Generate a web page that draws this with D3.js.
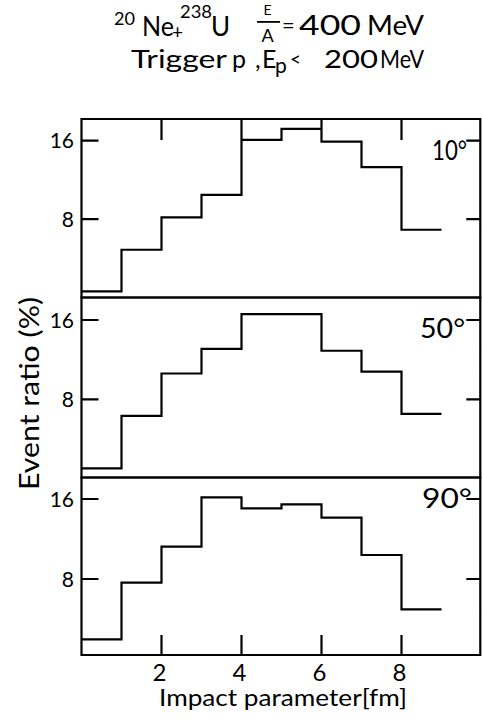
<!DOCTYPE html>
<html>
<head>
<meta charset="utf-8">
<script src="https://cdn.jsdelivr.net/npm/d3@7"></script>
<style>
  html, body { margin: 0; padding: 0; background: #fff; }
  svg { display: block; }
  text { font-family: Lato, "DejaVu Sans", sans-serif; fill: #000; }
</style>
</head>
<body>
<script>
// ---- data ----
const binEdges = [0, 1, 2, 3, 4, 5, 6, 7, 8, 9];
const xTickValues = [2, 4, 6, 8];
const yTickValues = [8, 16];
const panelLabels = ["10°", "50°", "90°"];
const ratio10 = [0.63, 4.87, 8.16, 10.47, 16.07, 17.19, 15.9, 13.29, 6.91];
const ratio50 = [1.04, 6.32, 10.6, 13.08, 16.6, 16.6, 12.9, 10.8, 6.52];
const ratio90 = [1.97, 7.63, 11.23, 16.17, 15.07, 15.47, 14.13, 10.4, 4.97];
const series = [ratio10, ratio50, ratio90];
const yDomains = [[0, 18.2], [0.11, 18.27], [0.4, 18.15]];

// ---- layout ----
const W = 482, H = 721;
const panelTops = [119, 297.5, 477.5];
const panelBottoms = [297.5, 477.5, 655];
const labelX = [432, 420, 422];
const labelBaseline = [160, 338, 508];
const labelLen = [35, 45, 50];

const svg = d3.select("body").append("svg").attr("width", W).attr("height", H);

const x = d3.scaleLinear().domain([0, 10]).range([81.5, 481.5]);
const x0 = x(0), xRight = x(9.97);

const step = d3.line().curve(d3.curveStepAfter);

series.forEach((vals, i) => {
  const y = d3.scaleLinear().domain(yDomains[i]).range([panelBottoms[i], panelTops[i]]);
  const g = svg.append("g");
  const pTop = panelTops[i], pBot = panelBottoms[i];

  // histogram step line, frame and inward tick marks, all in one path
  const pts = binEdges.map((e, k) => [x(e), y(vals[Math.min(k, vals.length - 1)])]);
  let d = step(pts);
  d += `M${x0},${pTop}H${xRight}V${pBot}H${x0}Z`;
  yTickValues.forEach(v => {
    d += `M${x0},${y(v)}H${x0 + 17}`;
    d += `M${xRight - 14},${y(v)}H${xRight}`;
  });
  if (i === 0) xTickValues.forEach(v => { d += `M${x(v)},${pTop}V${pTop + 21}`; });
  if (i === series.length - 1) xTickValues.forEach(v => { d += `M${x(v)},${pBot - 20}V${pBot}`; });
  g.append("path").attr("d", d)
    .attr("fill", "none").attr("stroke", "#000").attr("stroke-width", 2.2);

  // left tick labels
  g.selectAll("text.lt").data(yTickValues).join("text").attr("class", "lt")
    .attr("x", 74).attr("y", v => y(v)).attr("dy", "0.36em")
    .attr("text-anchor", "end").attr("font-size", 21).text(v => v);

  if (i === series.length - 1) {
    g.selectAll("text.bt").data(xTickValues).join("text").attr("class", "bt")
      .attr("x", v => x(v) - 2).attr("y", 681).attr("text-anchor", "middle")
      .attr("font-size", 24).text(v => v);
  }

  // panel label
  g.append("text").attr("x", labelX[i]).attr("y", labelBaseline[i])
    .attr("font-size", 27).attr("textLength", labelLen[i]).attr("lengthAdjust", "spacingAndGlyphs")
    .text(panelLabels[i]);
});

// axis titles
svg.append("text")
  .attr("transform", "translate(39,393.5) rotate(-90)")
  .attr("text-anchor", "middle").attr("font-size", 26)
  .attr("textLength", 193).attr("lengthAdjust", "spacingAndGlyphs")
  .text("Event ratio (%)");

svg.append("text")
  .attr("x", 159).attr("y", 706)
  .attr("font-size", 23).attr("textLength", 248).attr("lengthAdjust", "spacingAndGlyphs")
  .text("Impact parameter[fm]");

// titles
const T = (g, tx, ty, size, str, len, anchor) => {
  const t = g.append("text").attr("x", tx).attr("y", ty).attr("font-size", size).text(str);
  if (len) t.attr("textLength", len).attr("lengthAdjust", "spacingAndGlyphs");
  if (anchor) t.attr("text-anchor", anchor);
  return t;
};
const t1 = svg.append("g");
T(t1, 114, 25, 17, "20", 21);
T(t1, 142, 36, 26, "Ne", 32);
T(t1, 172, 39, 19, "+");
T(t1, 180, 18, 18, "238", 32);
T(t1, 211, 36, 26, "U");
T(t1, 267.5, 15, 14, "E", null, "middle");
t1.append("rect").attr("x", 257).attr("y", 21).attr("width", 23).attr("height", 1.8).attr("fill", "#000");
T(t1, 267.5, 42, 18, "A", null, "middle");
T(t1, 282, 33, 22, "=");
T(t1, 299, 35, 27, "400", 62);
T(t1, 367, 35, 27, "MeV", 57);

const t2 = svg.append("g");
T(t2, 131, 68, 25, "Trigger", 96);
T(t2, 232, 68, 25, "p");
T(t2, 255, 68, 25, ",");
T(t2, 262, 68, 25, "E");
T(t2, 275, 73, 21, "p");
T(t2, 290, 66, 19, "<");
T(t2, 324, 68, 25, "200", 54);
T(t2, 380, 68, 25, "MeV", 44);
</script>
</body>
</html>
